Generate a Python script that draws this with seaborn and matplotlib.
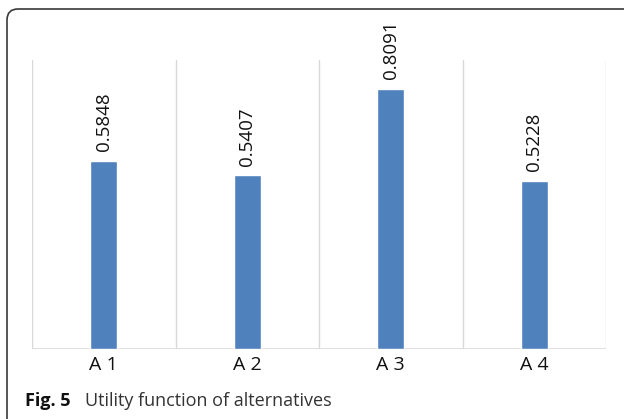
import matplotlib
matplotlib.use("Agg")
import matplotlib.pyplot as plt
from matplotlib.patches import FancyBboxPatch
import seaborn as sns
import pandas as pd

alternatives = ["A 1", "A 2", "A 3", "A 4"]
utility = [0.5848, 0.5407, 0.8091, 0.5228]
value_labels = ["0.5848", "0.5407", "0.8091", "0.5228"]

sns.set_theme(style="white")
plt.rcParams["font.family"] = ["Open Sans", "DejaVu Sans"]

W, H = 624, 419
fig = plt.figure(figsize=(W / 100, H / 100), dpi=100)
fig.patch.set_facecolor("white")

# rounded frame around the figure (inches, running off the right and bottom)
frame = FancyBboxPatch((0.07, -0.13), 7.0, (H - 9 + 13) / 100,
                       boxstyle="round,pad=0,rounding_size=0.11",
                       transform=fig.dpi_scale_trans, facecolor="none",
                       edgecolor="#3a3a3a", linewidth=1.2)
fig.patches.append(frame)

ax = fig.add_axes([32 / W, (H - 349) / H, (606 - 32) / W, (349 - 60) / H])
df = pd.DataFrame({"alt": alternatives, "u": utility})
sns.barplot(data=df, x="alt", y="u", color="#4F81BD", saturation=1,
            width=0.19, ax=ax)

ax.set_ylim(0, 0.9)
ax.set_xlim(-0.5, len(alternatives) - 0.5)
for b in [i - 0.5 for i in range(len(alternatives) + 1)]:
    ax.axvline(b, color="#d9d9d9", linewidth=1, zorder=0)
ax.axhline(0, color="#d9d9d9", linewidth=1.2, zorder=0)

for s in ax.spines.values():
    s.set_visible(False)
ax.set_yticks([])
ax.set_xlabel("")
ax.set_ylabel("")
ax.tick_params(axis="x", length=0, pad=5, labelsize=14, labelcolor="#111111")

ax.bar_label(ax.containers[0], labels=value_labels, rotation=90,
             padding=7, fontsize=13.5, color="#111111")

fig.text(25 / W, 13 / H, "Fig. 5", fontsize=13, fontweight="bold",
         color="#111111", va="baseline", ha="left")
fig.text(85 / W, 13 / H, "Utility function of alternatives", fontsize=13,
         color="#333333", va="baseline", ha="left")

fig.savefig("out.png", dpi=100, facecolor="white")
